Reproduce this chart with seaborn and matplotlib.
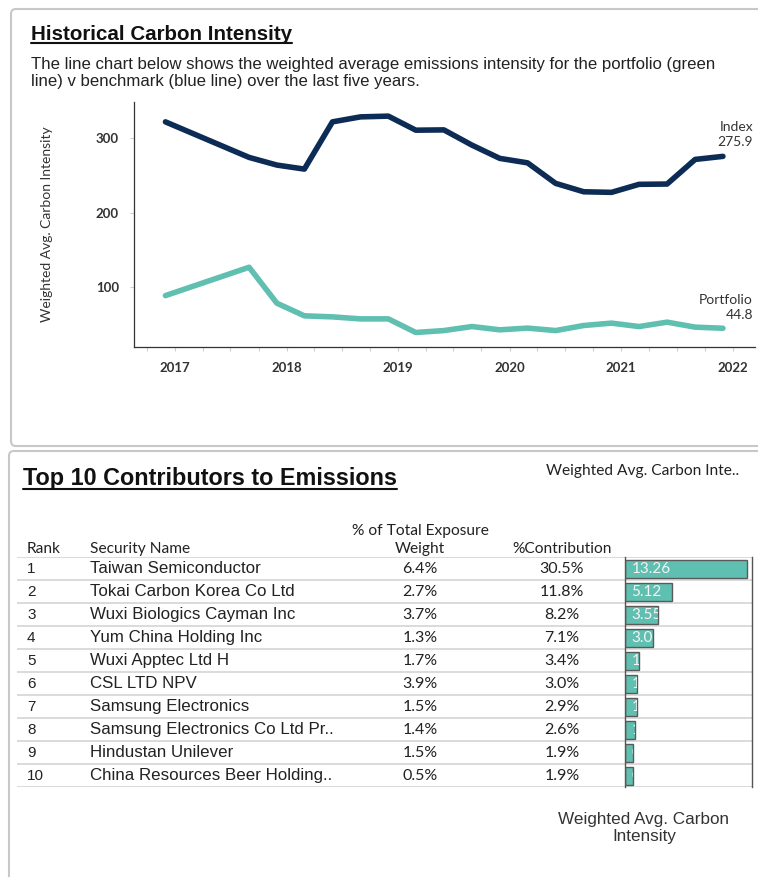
import pandas as pd
import matplotlib.pyplot as plt
import matplotlib.dates as mdates
from matplotlib.patches import FancyBboxPatch
from matplotlib.lines import Line2D
import seaborn as sns

# Historical data (quarterly)
dates = ['2016-11-30', '2017-08-31', '2017-11-30', '2018-02-28', '2018-05-31',
         '2018-08-31', '2018-11-30', '2019-02-28', '2019-05-31', '2019-08-31',
         '2019-11-30', '2020-02-29', '2020-05-31', '2020-08-31', '2020-11-30',
         '2021-02-28', '2021-05-31', '2021-08-31', '2021-11-30']
index_vals = [322.3, 274.5, 264.2, 258.8, 322.3, 329.0, 330.0, 311.1, 311.5, 291.0,
              273.2, 267.2, 239.6, 228.3, 227.5, 238.3, 238.7, 271.8, 275.9]
portfolio_vals = [88.7, 126.8, 78.5, 61.5, 60.1, 57.4, 57.4, 39.1, 41.7, 47.1,
                  42.7, 45.0, 41.7, 48.5, 51.7, 47.1, 53.0, 46.3, 44.8]

# Top 10 table
ranks = ['1', '2', '3', '4', '5', '6', '7', '8', '9', '10']
names = ['Taiwan Semiconductor', 'Tokai Carbon Korea Co Ltd', 'Wuxi Biologics Cayman Inc',
         'Yum China Holding Inc', 'Wuxi Apptec Ltd H', 'CSL LTD NPV', 'Samsung Electronics',
         'Samsung Electronics Co Ltd Pr..', 'Hindustan Unilever', 'China Resources Beer Holding..']
weights = ['6.4%', '2.7%', '3.7%', '1.3%', '1.7%', '3.9%', '1.5%', '1.4%', '1.5%', '0.5%']
contribs = ['30.5%', '11.8%', '8.2%', '7.1%', '3.4%', '3.0%', '2.9%', '2.6%', '1.9%', '1.9%']
intensity = [13.26, 5.12, 3.55, 3.09, 1.48, 1.31, 1.26, 1.13, 0.83, 0.83]

NAVY = '#0c2b55'
TEAL = '#5fbfb0'
W, H = 758, 877
CAL = ['Lato', 'DejaVu Sans']
ARIAL = ['Liberation Sans', 'DejaVu Sans']

sns.set_theme(style='white')
plt.rcParams['font.family'] = CAL


def fx(x):
    return x / W


def fy(y):
    return 1 - y / H


def box(x0, y0, x1, y1):
    return [fx(x0), fy(y1), fx(x1) - fx(x0), fy(y0) - fy(y1)]


fig = plt.figure(figsize=(W / 100, H / 100), dpi=100)

# panel frames
for (x0, y0, x1, y1) in [(11, 9, 790, 446), (9, 451, 790, 920)]:
    fig.add_artist(FancyBboxPatch((fx(x0), fy(y1)), fx(x1) - fx(x0), fy(y0) - fy(y1),
                                  boxstyle='round,pad=0,rounding_size=0.006',
                                  transform=fig.transFigure, fc='none', ec='#c8c8c8', lw=1.5))

# ---- line chart ----
df = pd.DataFrame({'date': pd.to_datetime(dates), 'Index': index_vals, 'Portfolio': portfolio_vals})
ax = fig.add_axes(box(134.3, 102, 755, 346.7))
sns.lineplot(data=df, x='date', y='Index', color=NAVY, lw=4, ax=ax)
sns.lineplot(data=df, x='date', y='Portfolio', color=TEAL, lw=4, ax=ax)
ax.set_xlim(pd.Timestamp('2016-08-20'), pd.Timestamp('2022-03-15'))
ax.set_ylim(20, 349)
ax.set_yticks([100, 200, 300])
ax.xaxis.set_major_locator(mdates.YearLocator())
ax.xaxis.set_major_formatter(mdates.DateFormatter('%Y'))
ax.xaxis.set_minor_locator(mdates.MonthLocator(bymonth=[4, 7, 10]))
ax.tick_params(axis='both', which='both', bottom=True, left=True, length=3, width=0.8,
               color='#d0d0d0', labelsize=9.5, labelcolor='#333333', pad=8)
ax.tick_params(axis='x', which='minor', length=3)
for lab in ax.get_xticklabels() + ax.get_yticklabels():
    lab.set_fontweight('bold')
ax.set_xlabel('')
ax.set_ylabel('Weighted Avg. Carbon Intensity', fontsize=10, color='#333333', labelpad=31)
for s in ['top', 'right']:
    ax.spines[s].set_visible(False)
for s in ['left', 'bottom']:
    ax.spines[s].set_color('#333333')
    ax.spines[s].set_linewidth(0.9)
ax.annotate('Index\n' + f'{index_vals[-1]:.1f}', xy=(df['date'].iloc[-1], index_vals[-1]),
            xytext=(30, 8), textcoords='offset pixels', ha='right', va='bottom',
            fontsize=10, color='#333333', linespacing=1.3)
ax.annotate('Portfolio\n' + f'{portfolio_vals[-1]:.1f}', xy=(df['date'].iloc[-1], portfolio_vals[-1]),
            xytext=(30, 7), textcoords='offset pixels', ha='right', va='bottom',
            fontsize=10, color='#333333', linespacing=1.3)

# ---- titles ----
t1 = fig.text(fx(31), fy(34), 'Historical Carbon Intensity', family=ARIAL, fontsize=14.8,
              fontweight='bold', color='#111111', va='center')
fig.text(fx(31), fy(73), 'The line chart below shows the weighted average emissions intensity for the portfolio (green\n'
         'line) v benchmark (blue line) over the last five years.', family=ARIAL, fontsize=12.1,
         color='#222222', va='center', linespacing=1.2)
t2 = fig.text(fx(23), fy(478), 'Top 10 Contributors to Emissions', family=ARIAL, fontsize=16.8,
              fontweight='bold', color='#111111', va='center')
fig.text(fx(546), fy(471), 'Weighted Avg. Carbon Inte..', fontsize=11.2, color='#222222', va='center')
fig.text(fx(644), fy(828), 'Weighted Avg. Carbon\nIntensity', family=ARIAL, fontsize=12.3,
         color='#333333', ha='center', va='center', linespacing=1.1)

# table header
hdr = dict(fontsize=11.2, color='#222222', va='center')
fig.text(fx(27), fy(549), 'Rank', **hdr)
fig.text(fx(90), fy(549), 'Security Name', **hdr)
fig.text(fx(420), fy(531), '% of Total Exposure', ha='center', **hdr)
fig.text(fx(420), fy(549), 'Weight', ha='center', **hdr)
fig.text(fx(562), fy(549), '%Contribution', ha='center', **hdr)

# ---- table body ----
top_y, bot_y = 557.3, 787.3
tab = fig.add_axes(box(17, top_y, 752, bot_y))
tab.set_xlim(17, 752)
tab.set_ylim(9.5, -0.5)
tab.axis('off')
for i in range(len(ranks) + 1):
    tab.axhline(i - 0.5, color='#d4d4d4', lw=1.2)
for i in range(len(ranks)):
    tab.text(27, i, ranks[i], family=ARIAL, fontsize=11, color='#222222', va='center')
    tab.text(90, i, names[i], family=ARIAL, fontsize=12.2, color='#222222', va='center')
    tab.text(420, i, weights[i], fontsize=11.5, color='#222222', va='center', ha='center')
    tab.text(562, i, contribs[i], fontsize=11.5, color='#222222', va='center', ha='center')

bar_ax = fig.add_axes(box(625, top_y, 752, bot_y))
bdf = pd.DataFrame({'rank': ranks, 'val': intensity})
sns.barplot(data=bdf, x='val', y='rank', orient='h', color=TEAL, saturation=1,
            edgecolor='#5a5a5a', linewidth=1, width=0.76, ax=bar_ax)
bar_ax.set_xlim(0, 13.84)
bar_ax.set_ylim(9.5, -0.5)
bar_ax.set_xlabel('')
bar_ax.set_ylabel('')
bar_ax.set_xticks([])
bar_ax.set_yticks([])
bar_ax.patch.set_alpha(0)
for s in ['top', 'bottom']:
    bar_ax.spines[s].set_visible(False)
for s in ['left', 'right']:
    bar_ax.spines[s].set_visible(True)
    bar_ax.spines[s].set_color('#555555')
    bar_ax.spines[s].set_linewidth(1)
for p, v in zip(bar_ax.patches, intensity):
    txt = bar_ax.text(0.7, p.get_y() + p.get_height() / 2, f'{v:.2f}', color='#f4f4f4',
                      fontsize=11, va='center', ha='left', clip_on=True)
    txt.set_clip_path(p)

# underline titles
fig.canvas.draw()
r = fig.canvas.get_renderer()
for t in [t1, t2]:
    bb = t.get_window_extent(r).transformed(fig.transFigure.inverted())
    fig.add_artist(Line2D([bb.x0, bb.x1], [bb.y0 + 0.0005, bb.y0 + 0.0005],
                          transform=fig.transFigure, color='#111111', lw=1.5))

fig.savefig('out.png', dpi=100)
